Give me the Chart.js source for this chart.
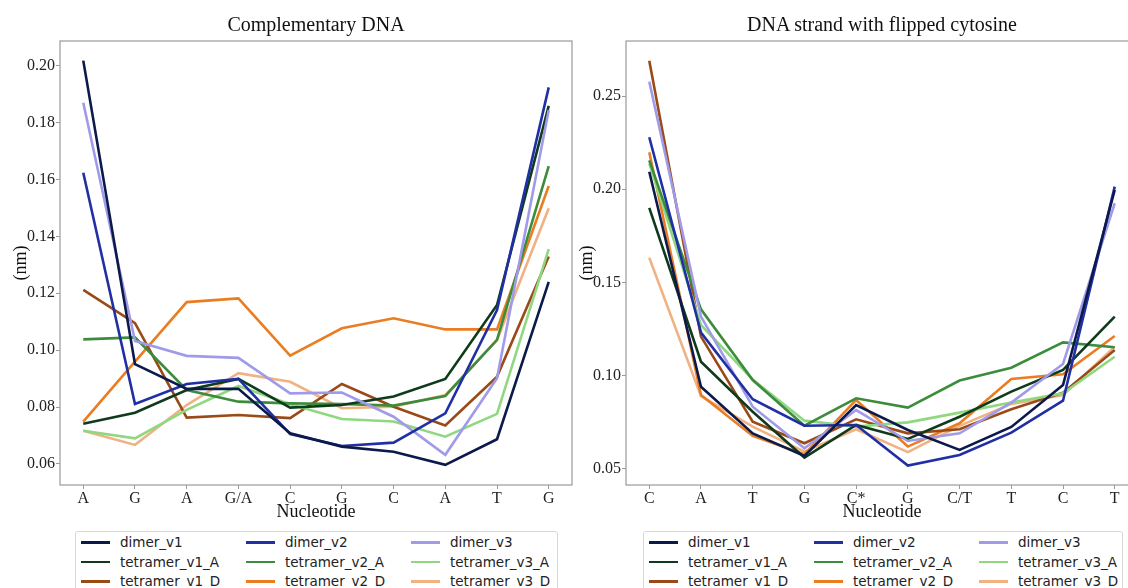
<!DOCTYPE html>
<html>
<head>
<meta charset="utf-8">
<script src="https://cdn.jsdelivr.net/npm/chart.js@4/dist/chart.umd.min.js"></script>
<style>
  html, body { margin: 0; padding: 0; background: #fff; }
  body { width: 1128px; height: 588px; overflow: hidden; position: relative; }
  .panel { position: absolute; top: 0; height: 530px; overflow: hidden; }
  #pLeft { left: 0; width: 580px; }
  #pRight { left: 566px; width: 562px; }
  .panel canvas { position: absolute; left: 0; top: 0; }
  .title {
    position: absolute; top: 11px; width: 512px; text-align: center;
    font-family: "Liberation Serif", "Times New Roman", serif; font-size: 20px;
    line-height: 26px; color: #111;
  }
  #tLeft { left: 60px; }
  #tRight { left: 626px; }
  .legend {
    position: absolute; top: 531px; height: 70px;
    border: 1px solid #d8d8d8; border-radius: 3px; background: #fff;
    font-family: "DejaVu Sans", sans-serif; font-size: 13.5px; color: #222;
  }
  #legLeft { left: 75px; width: 481px; }
  #legRight { left: 643px; width: 478px; }
  .item { position: absolute; height: 19px; line-height: 19px; white-space: nowrap; }
  .item .swatch { position: absolute; left: 0; top: 8px; width: 29px; height: 2.6px; }
  .item .name { position: absolute; left: 39px; top: 0; }
</style>
</head>
<body>
<div class="panel" id="pLeft"><canvas id="cvLeft" width="580" height="530"></canvas></div>
<div class="panel" id="pRight"><canvas id="cvRight" width="580" height="530"></canvas></div>
<div class="title" id="tLeft">Complementary DNA</div>
<div class="title" id="tRight">DNA strand with flipped cytosine</div>
<div class="legend" id="legLeft"></div>
<div class="legend" id="legRight"></div>
<script>
// series names and line colours (shared by both panels)
const seriesNames = ['dimer_v1', 'dimer_v2', 'dimer_v3',
  'tetramer_v1_A', 'tetramer_v2_A', 'tetramer_v3_A',
  'tetramer_v1_D', 'tetramer_v2_D', 'tetramer_v3_D'];
const seriesColors = ['#0c1a4b', '#2030a4', '#a09be8',
  '#0f3b1c', '#3c8c3c', '#8fd880',
  '#994a17', '#ea7d22', '#f0b283'];

// Complementary DNA
const compLabels = ['A', 'G', 'A', 'G/A', 'C', 'G', 'C', 'A', 'T', 'G'];
const compTicks = [0.06, 0.08, 0.10, 0.12, 0.14, 0.16, 0.18, 0.20];
const comp_dimer_v1 = [0.2018, 0.0951, 0.0864, 0.0864, 0.0708, 0.0661, 0.0643, 0.0597, 0.0687, 0.1240];
const comp_dimer_v2 = [0.1624, 0.0811, 0.0881, 0.0899, 0.0705, 0.0663, 0.0675, 0.0778, 0.1141, 0.1924];
const comp_dimer_v3 = [0.1870, 0.1032, 0.0980, 0.0973, 0.0848, 0.0851, 0.0766, 0.0632, 0.0901, 0.1844];
const comp_tetramer_v1_A = [0.0741, 0.0780, 0.0860, 0.0899, 0.0798, 0.0807, 0.0837, 0.0899, 0.1159, 0.1859];
const comp_tetramer_v2_A = [0.1038, 0.1045, 0.0860, 0.0819, 0.0813, 0.0811, 0.0805, 0.0839, 0.1036, 0.1647];
const comp_tetramer_v3_A = [0.0717, 0.0690, 0.0790, 0.0874, 0.0810, 0.0758, 0.0749, 0.0696, 0.0776, 0.1355];
const comp_tetramer_v1_D = [0.1212, 0.1095, 0.0763, 0.0772, 0.0761, 0.0881, 0.0801, 0.0735, 0.0907, 0.1329];
const comp_tetramer_v2_D = [0.0749, 0.0960, 0.1169, 0.1182, 0.0981, 0.1077, 0.1112, 0.1073, 0.1073, 0.1577];
const comp_tetramer_v3_D = [0.0717, 0.0667, 0.0807, 0.0919, 0.0889, 0.0796, 0.0801, 0.0842, 0.1036, 0.1499];

// DNA strand with flipped cytosine
const flipLabels = ['C', 'A', 'T', 'G', 'C*', 'G', 'C/T', 'T', 'C', 'T'];
const flipTicks = [0.05, 0.10, 0.15, 0.20, 0.25];
const flip_dimer_v1 = [0.2094, 0.0941, 0.0691, 0.0570, 0.0843, 0.0709, 0.0602, 0.0725, 0.0950, 0.1996];
const flip_dimer_v2 = [0.2279, 0.1231, 0.0874, 0.0732, 0.0736, 0.0518, 0.0575, 0.0695, 0.0866, 0.2014];
const flip_dimer_v3 = [0.2577, 0.1317, 0.0834, 0.0611, 0.0816, 0.0650, 0.0691, 0.0856, 0.1063, 0.1925];
const flip_tetramer_v1_A = [0.1900, 0.1075, 0.0807, 0.0561, 0.0736, 0.0661, 0.0780, 0.0915, 0.1031, 0.1317];
const flip_tetramer_v2_A = [0.2155, 0.1356, 0.0977, 0.0732, 0.0879, 0.0829, 0.0974, 0.1043, 0.1179, 0.1153];
const flip_tetramer_v3_A = [0.2139, 0.1272, 0.0980, 0.0759, 0.0727, 0.0750, 0.0802, 0.0856, 0.0906, 0.1102];
const flip_tetramer_v1_D = [0.2689, 0.1210, 0.0754, 0.0638, 0.0766, 0.0691, 0.0713, 0.0820, 0.0909, 0.1138];
const flip_tetramer_v2_D = [0.2198, 0.0897, 0.0677, 0.0579, 0.0870, 0.0620, 0.0745, 0.0983, 0.1008, 0.1213];
const flip_tetramer_v3_D = [0.1633, 0.0890, 0.0727, 0.0593, 0.0713, 0.0590, 0.0731, 0.0849, 0.0897, 0.1156];

const compSeries = [comp_dimer_v1, comp_dimer_v2, comp_dimer_v3,
  comp_tetramer_v1_A, comp_tetramer_v2_A, comp_tetramer_v3_A,
  comp_tetramer_v1_D, comp_tetramer_v2_D, comp_tetramer_v3_D];
const flipSeries = [flip_dimer_v1, flip_dimer_v2, flip_dimer_v3,
  flip_tetramer_v1_A, flip_tetramer_v2_A, flip_tetramer_v3_A,
  flip_tetramer_v1_D, flip_tetramer_v2_D, flip_tetramer_v3_D];

const serif = 'Liberation Serif, Times New Roman, serif';
const axisGray = '#9a9a9a';

// box around the plotting area, like a matplotlib axes frame
const frame = {
  id: 'frame',
  beforeDatasetsDraw(chart) {
    const { ctx, chartArea: a } = chart;
    ctx.save();
    ctx.strokeStyle = axisGray;
    ctx.lineWidth = 1.2;
    ctx.strokeRect(a.left, a.top, a.right - a.left, a.bottom - a.top);
    ctx.restore();
  }
};

function makeChart(canvasId, labels, series, yMin, yMax, yTicks) {
  const datasets = series.map((vals, i) => ({
    label: seriesNames[i],
    data: vals.map((v, j) => ({ x: j, y: v })),
    borderColor: seriesColors[i],
    backgroundColor: seriesColors[i],
    borderWidth: 2.6,
    pointRadius: 0,
    tension: 0
  }));

  return new Chart(document.getElementById(canvasId), {
    type: 'line',
    data: { datasets: datasets },
    plugins: [frame],
    options: {
      responsive: false,
      animation: false,
      devicePixelRatio: 1,
      layout: { padding: { left: 0, right: 8, top: 41, bottom: 0 } },
      plugins: {
        legend: { display: false },
        tooltip: { enabled: false },
        title: { display: false }
      },
      scales: {
        x: {
          type: 'linear',
          min: -0.45,
          max: labels.length - 1 + 0.45,
          afterBuildTicks: (scale) => {
            scale.ticks = labels.map((l, i) => ({ value: i }));
          },
          afterFit: (scale) => { scale.height = 45; },
          ticks: {
            color: '#222',
            padding: 0,
            maxRotation: 0,
            autoSkip: false,
            font: { family: serif, size: 16 },
            callback: (v) => labels[v]
          },
          grid: { drawOnChartArea: false, drawTicks: true, tickLength: 4, tickColor: axisGray },
          border: { display: false },
          title: {
            display: true,
            text: 'Nucleotide',
            color: '#111',
            font: { family: serif, size: 18 },
            padding: { top: 0, bottom: 7 }
          }
        },
        y: {
          min: yMin,
          max: yMax,
          afterBuildTicks: (scale) => {
            scale.ticks = yTicks.map((t) => ({ value: t }));
          },
          afterFit: (scale) => { scale.width = 60; },
          ticks: {
            color: '#222',
            padding: 1,
            font: { family: serif, size: 16 },
            callback: (v) => v.toFixed(2)
          },
          grid: { drawOnChartArea: false, drawTicks: true, tickLength: 4, tickColor: axisGray },
          border: { display: false },
          title: {
            display: true,
            text: '(nm)',
            color: '#111',
            font: { family: serif, size: 18 },
            padding: { top: 10, bottom: 0 }
          }
        }
      }
    }
  });
}

// three-column legend under each panel
function buildLegend(id) {
  const box = document.getElementById(id);
  seriesNames.forEach((name, i) => {
    const item = document.createElement('div');
    item.className = 'item';
    item.style.left = (5 + (i % 3) * 165) + 'px';
    item.style.top = (1 + Math.floor(i / 3) * 19.5) + 'px';
    const sw = document.createElement('span');
    sw.className = 'swatch';
    sw.style.background = seriesColors[i];
    const tx = document.createElement('span');
    tx.className = 'name';
    tx.textContent = name;
    item.appendChild(sw);
    item.appendChild(tx);
    box.appendChild(item);
  });
}

makeChart('cvLeft', compLabels, compSeries, 0.0526, 0.2087, compTicks);
makeChart('cvRight', flipLabels, flipSeries, 0.0414, 0.2795, flipTicks);
buildLegend('legLeft');
buildLegend('legRight');
</script>
</body>
</html>
